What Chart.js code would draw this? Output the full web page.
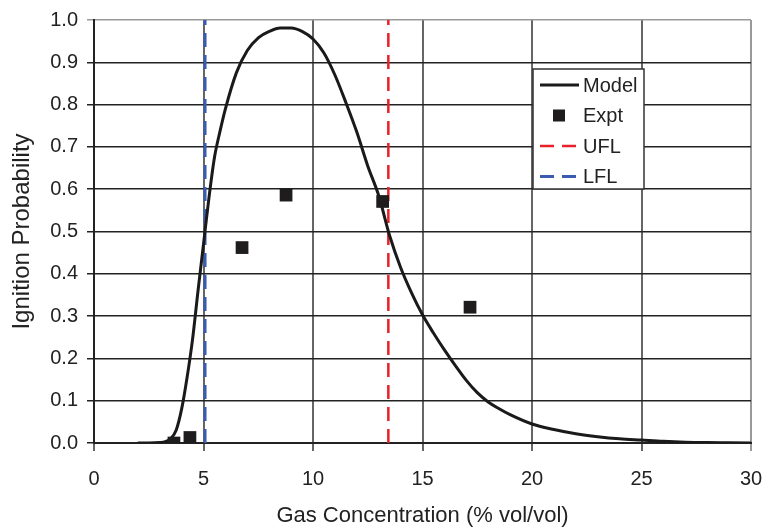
<!DOCTYPE html>
<html>
<head>
<meta charset="utf-8">
<script src="https://cdn.jsdelivr.net/npm/chart.js@4.4.1/dist/chart.umd.min.js"></script>
<style>
  html, body { margin: 0; padding: 0; background: #fff; }
  canvas { display: block; }
</style>
</head>
<body>
<canvas id="ignitionChart" width="763" height="530"></canvas>
<script>
// model curve
const modelX = [2.0, 2.5, 3.0, 3.25, 3.5, 3.75, 4.0, 4.25, 4.5, 4.75, 5.0, 5.25, 5.5, 5.75, 6.0, 6.5, 7.0, 7.5, 8.0, 8.5, 9.0, 9.5, 10.0, 10.5, 11.0, 11.5, 12.0, 12.5, 13.0, 13.5, 14.0, 14.5, 15.0, 15.5, 16.0, 16.5, 17.0, 17.5, 18.0, 18.5, 19.0, 20.0, 21.0, 22.0, 23.0, 24.0, 25.0, 26.0, 27.0, 28.0, 29.0, 30.0];
const modelY = [0.0, 0.0, 0.001, 0.003, 0.01, 0.03, 0.08, 0.155, 0.245, 0.36, 0.47, 0.58, 0.675, 0.736, 0.79, 0.875, 0.928, 0.958, 0.973, 0.981, 0.981, 0.973, 0.955, 0.922, 0.87, 0.805, 0.735, 0.655, 0.585, 0.49, 0.415, 0.355, 0.303, 0.26, 0.22, 0.183, 0.148, 0.119, 0.097, 0.081, 0.067, 0.045, 0.032, 0.022, 0.015, 0.01, 0.007, 0.004, 0.002, 0.001, 0.0005, 0.0];

// experimental points
const exptX = [3.65, 4.38, 6.76, 8.77, 13.18, 17.17];
const exptY = [0.0, 0.013, 0.462, 0.586, 0.571, 0.321];

// flammability limits
const lflX = 5.07;
const uflX = 13.44;

const fontFamily = "'Liberation Sans', Arial, Helvetica, sans-serif";

function toPoints(xs, ys) {
  return xs.map((x, i) => ({ x: x, y: ys[i] }));
}

// legend drawn inside the plot, like the original
const boxLegend = {
  id: 'boxLegend',
  afterDraw(chart) {
    const ctx = chart.ctx;
    const left = 533, top = 69, w = 111, h = 120;
    ctx.save();
    ctx.fillStyle = '#fff';
    ctx.fillRect(left, top, w, h);
    ctx.strokeStyle = '#333';
    ctx.lineWidth = 1.5;
    ctx.strokeRect(left, top, w, h);

    ctx.font = '20px ' + fontFamily;
    ctx.textBaseline = 'middle';

    const rows = ['Model', 'Expt', 'UFL', 'LFL'];
    rows.forEach((name, i) => {
      const ds = chart.data.datasets.find(d => d.label === name);
      const cy = top + 16 + i * 30.5;
      if (name === 'Expt') {
        ctx.fillStyle = ds.backgroundColor;
        ctx.fillRect(553, cy - 6, 12, 12);
      } else {
        ctx.beginPath();
        ctx.strokeStyle = ds.borderColor;
        ctx.lineWidth = ds.borderWidth;
        ctx.setLineDash(ds.borderDash || []);
        ctx.moveTo(540, cy);
        ctx.lineTo(579, cy);
        ctx.stroke();
        ctx.setLineDash([]);
      }
      ctx.fillStyle = '#222';
      ctx.fillText(name, 583, cy + 1);
    });
    ctx.restore();
  }
};

const ctx = document.getElementById('ignitionChart').getContext('2d');
const chart = new Chart(ctx, {
  type: 'scatter',
  data: {
    datasets: [
      {
        label: 'Expt',
        data: toPoints(exptX, exptY),
        pointStyle: 'rect',
        pointRadius: 9,
        pointHoverRadius: 9,
        backgroundColor: '#1f1c1d',
        borderColor: '#1f1c1d',
        borderWidth: 0
      },
      {
        label: 'Model',
        data: toPoints(modelX, modelY),
        showLine: true,
        pointRadius: 0,
        borderColor: '#1a1a1a',
        borderWidth: 3,
        cubicInterpolationMode: 'monotone'
      },
      {
        label: 'UFL',
        data: [{ x: uflX, y: 0 }, { x: uflX, y: 1 }],
        showLine: true,
        pointRadius: 0,
        borderColor: '#e8202a',
        borderWidth: 2.5,
        borderDash: [14, 8]
      },
      {
        label: 'LFL',
        data: [{ x: lflX, y: 0 }, { x: lflX, y: 1 }],
        showLine: true,
        pointRadius: 0,
        borderColor: '#3a5cb0',
        borderWidth: 3,
        borderDash: [14, 8]
      }
    ]
  },
  options: {
    responsive: false,
    animation: false,
    layout: { padding: { top: 20, right: 12, left: 0, bottom: 0 } },
    plugins: {
      legend: { display: false },
      tooltip: { enabled: false }
    },
    scales: {
      x: {
        type: 'linear',
        min: 0,
        max: 30,
        ticks: {
          stepSize: 5,
          padding: 16,
          color: '#222',
          font: { family: fontFamily, size: 20 }
        },
        grid: {
          color: c => (c.tick && c.tick.value === 30) ? '#999' : '#666',
          lineWidth: 2,
          tickLength: 8
        },
        border: { color: '#222', width: 2 },
        title: {
          display: true,
          text: 'Gas Concentration (% vol/vol)',
          color: '#222',
          font: { family: fontFamily, size: 22 },
          padding: { top: 0, bottom: 1 }
        },
        afterFit: scale => {
          scale.height = 87;
          scale.paddingRight = 0;
          scale.paddingLeft = 0;
        }
      },
      y: {
        min: 0,
        max: 1,
        ticks: {
          stepSize: 0.1,
          padding: 9,
          color: '#222',
          font: { family: fontFamily, size: 20 },
          callback: v => v.toFixed(1)
        },
        grid: {
          color: c => (c.tick && Math.abs(c.tick.value - 1) < 1e-6) ? '#999' : '#222',
          lineWidth: 1.5,
          tickLength: 7
        },
        border: { color: '#222', width: 2 },
        title: {
          display: true,
          text: 'Ignition Probability',
          color: '#222',
          font: { family: fontFamily, size: 24 },
          padding: { top: 8, bottom: 0 }
        },
        afterFit: scale => {
          scale.width = 94;
          scale.paddingTop = 0;
          scale.paddingBottom = 0;
        }
      }
    }
  },
  plugins: [boxLegend]
});
</script>
</body>
</html>
